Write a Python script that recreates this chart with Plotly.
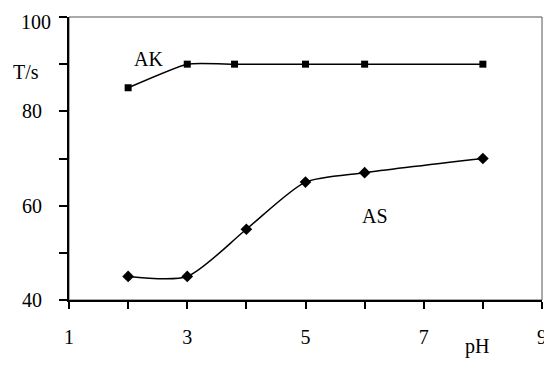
import plotly.graph_objects as go

ph_ak = [2, 3, 3.8, 5, 6, 8]
t_ak = [85, 90, 90, 90, 90, 90]
ph_as = [2, 3, 4, 5, 6, 8]
t_as = [45, 45, 55, 65, 67, 70]

x_ticks = [1, 3, 5, 7, 9]
y_ticks = [40, 60, 80, 100]
y_ticktext = ["40", "60", "80", ""]   # "100" drawn as an annotation so it is not cut at the top

FONT = "Liberation Serif, Times New Roman, serif"

fig = go.Figure()
fig.add_trace(go.Scatter(x=ph_ak, y=t_ak, mode="lines+markers",
                         line=dict(color="black", width=1.5, shape="spline", smoothing=0.45),
                         marker=dict(symbol="square", size=7, color="black"),
                         showlegend=False))
fig.add_trace(go.Scatter(x=ph_as, y=t_as, mode="lines+markers",
                         line=dict(color="black", width=1.5, shape="spline", smoothing=0.7),
                         marker=dict(symbol="diamond", size=9, color="black"),
                         showlegend=False))

fig.update_layout(
    width=544, height=361,
    margin=dict(l=61, r=10, t=9, b=69, autoexpand=False),
    paper_bgcolor="white", plot_bgcolor="white",
    font=dict(family=FONT, size=20, color="black"),
    xaxis=dict(range=[1, 9], tickvals=x_ticks, ticktext=[str(v) for v in x_ticks],
               automargin=False,
               showgrid=False, zeroline=False, showline=True, linecolor="black", linewidth=2,
               ticks="outside", ticklen=7, tickcolor="black", tickwidth=1.5,
               ticklabelstandoff=11, ticklabeloverflow="allow",
               minor=dict(dtick=1, tick0=1, ticks="outside", ticklen=7, tickcolor="black", tickwidth=1.5)),
    yaxis=dict(range=[40, 100], tickvals=y_ticks, ticktext=y_ticktext,
               automargin=False,
               showgrid=False, zeroline=False, showline=True, linecolor="black", linewidth=2,
               ticks="outside", ticklen=8, tickcolor="black", tickwidth=1.5,
               ticklabelstandoff=13, ticklabeloverflow="allow",
               minor=dict(dtick=10, tick0=40, ticks="outside", ticklen=8, tickcolor="black", tickwidth=1.5)),
    shapes=[dict(type="rect", xref="paper", yref="paper", x0=0, x1=1, y0=0, y1=1,
                 line=dict(color="#555555", width=1), layer="below")],
    annotations=[
        dict(text="100", xref="paper", yref="paper", x=-0.034, y=1.028, showarrow=False,
             xanchor="right", yanchor="top"),
        dict(text="T/s", xref="paper", yref="paper", x=-0.091, y=0.806, showarrow=False,
             xanchor="center", yanchor="middle"),
        dict(text="AK", x=2.35, y=91, showarrow=False, xanchor="center", yanchor="middle"),
        dict(text="AS", x=6.17, y=57.9, showarrow=False, xanchor="center", yanchor="middle"),
        dict(text="pH", xref="x", yref="paper", x=7.9, y=-0.165, showarrow=False,
             xanchor="center", yanchor="middle"),
    ],
)

fig.write_html("out.html")
